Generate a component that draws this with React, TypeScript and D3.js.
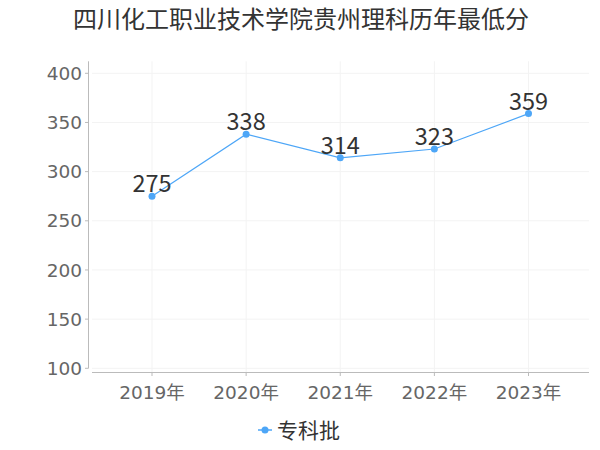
import React from "react"
import * as d3 from "d3"

const title = "四川化工职业技术学院贵州理科历年最低分"
const years = ["2019年", "2020年", "2021年", "2022年", "2023年"]
const scores = [275, 338, 314, 323, 359]
const yTicks = [100, 150, 200, 250, 300, 350, 400]
const seriesName = "专科批"

const W = 600
const H = 450
const font = "'DejaVu Sans', 'Noto Sans CJK SC', sans-serif"
const labelFont = "'Noto Sans CJK SC', sans-serif"
const lineColor = "#4da6f7"

const App: React.FC = () => {
  const x = d3.scalePoint<string>().domain(years).range([152, 528.5])
  const y = d3.scaleLinear().domain([100, 400]).range([368.3, 73.3])

  const line = d3
    .line<number>()
    .x((_, i) => x(years[i])!)
    .y((d) => y(d))

  return (
    <svg
      width={W}
      height={H}
      style={{ position: "fixed", left: 0, top: 0, background: "#fff" }}
      fontFamily={font}
    >
      <text x={301} y={28} textAnchor="middle" fontSize={24} fill="#333">
        {title}
      </text>

      {/* grid */}
      {yTicks.map((t) => (
        <line key={"h" + t} x1={92} x2={589} y1={y(t)} y2={y(t)} stroke="#f3f3f3" />
      ))}
      {years.map((c) => (
        <line key={"v" + c} x1={x(c)} x2={x(c)} y1={y(400) - 12} y2={372} stroke="#f3f3f3" />
      ))}

      {/* y axis */}
      <line x1={88.5} x2={88.5} y1={y(400) - 12} y2={y(100)} stroke="#bbb" />
      {yTicks.map((t) => (
        <g key={"yt" + t}>
          <line x1={85} x2={88.5} y1={y(t)} y2={y(t)} stroke="#bbb" />
          <text x={82} y={y(t)} dy="0.36em" textAnchor="end" fontSize={18.5} fill="#666">
            {t}
          </text>
        </g>
      ))}

      {/* x axis */}
      <line x1={92} x2={589} y1={372.5} y2={372.5} stroke="#bbb" />
      {years.map((c) => (
        <g key={"xt" + c}>
          <line x1={x(c)} x2={x(c)} y1={372.5} y2={376} stroke="#bbb" />
          <text x={x(c)} y={392} dy="0.36em" textAnchor="middle" fontSize={18.5} fill="#666">
            {c}
          </text>
        </g>
      ))}

      {/* series */}
      <path d={line(scores)!} fill="none" stroke={lineColor} strokeWidth={1.2} />
      {scores.map((v, i) => (
        <g key={"p" + i}>
          <circle cx={x(years[i])} cy={y(v)} r={3.5} fill={lineColor} />
          <text
            x={x(years[i])}
            y={y(v) - 4}
            textAnchor="middle"
            fontSize={23.5}
            fontFamily={labelFont}
            fill="#333"
          >
            {v}
          </text>
        </g>
      ))}

      {/* legend */}
      <line x1={258} x2={272} y1={430} y2={430} stroke={lineColor} strokeWidth={1.5} />
      <circle cx={265} cy={430} r={3.5} fill={lineColor} />
      <text x={277} y={430} dy="0.36em" fontSize={21} fill="#333">
        {seriesName}
      </text>
    </svg>
  )
}

export default App
